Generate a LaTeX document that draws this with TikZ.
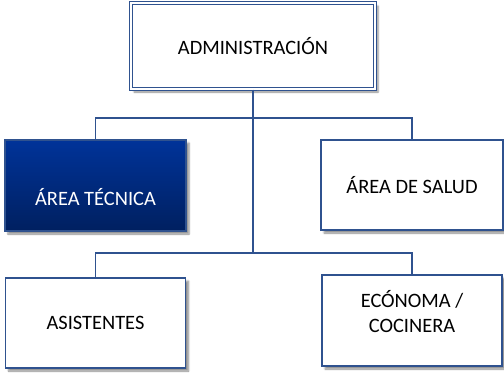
\documentclass[tikz,border=0pt]{standalone}
\usepackage{fontspec}
\setmainfont{Carlito}
\usetikzlibrary{positioning, calc, shadows.blur}
\definecolor{lineblue}{RGB}{47,82,143}
\definecolor{topblue}{RGB}{0,51,153}
\definecolor{botblue}{RGB}{0,32,96}
\begin{document}
\begin{tikzpicture}[
  x=1bp, y=-1bp,
  unit/.style={draw=lineblue, line width=1.5pt, fill=white, align=center,
               font=\fontsize{20.5}{25}\selectfont, inner sep=2pt,
               blur shadow={shadow xshift=3bp, shadow yshift=-3bp,
                            shadow blur steps=5, shadow opacity=45}},
  headbox/.style={unit, double=white, double distance=2pt, line width=1.3pt},
  darkbox/.style={unit, top color=topblue, bottom color=botblue, text=white},
  conn/.style={draw=lineblue, line width=2pt}
]
\useasboundingbox (0,0) rectangle (504,372);

% --- Top ---
\node[headbox, minimum width=244bp, minimum height=86bp] (admin) at (253,46) {ADMINISTRACIÓN};

% --- First level ---
\node[darkbox, minimum width=181bp, minimum height=91bp,
      text height=40bp, text depth=0pt] (tec) at (95.5,185.5) {ÁREA TÉCNICA};
\node[unit, minimum width=182bp, minimum height=90bp] (salud) at (412,185) {ÁREA DE SALUD};

% --- Second level ---
\node[unit, minimum width=180bp, minimum height=90bp] (asis) at (95.5,323) {ASISTENTES};
\node[unit, minimum width=180bp, minimum height=91bp,
      text depth=18bp] (econ) at (412,320.5) {ECÓNOMA /\\COCINERA};

% === Connectors ===
\coordinate (bar1) at (253,118);
\coordinate (bar2) at (253,253);
\draw[conn] (admin.south) -- (bar2);
\draw[conn] (tec.north) |- (bar1) -| (salud.north);
\draw[conn] (asis.north) |- (bar2) -| (econ.north);

\end{tikzpicture}
\end{document}
